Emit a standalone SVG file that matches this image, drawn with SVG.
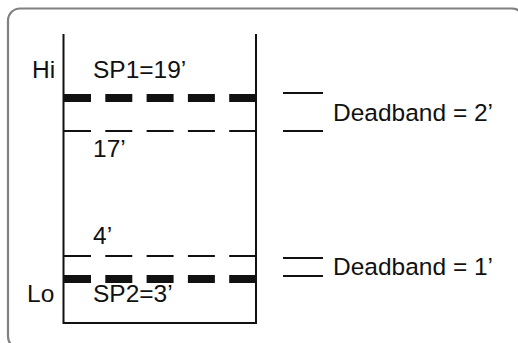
<svg xmlns="http://www.w3.org/2000/svg" width="518" height="343" viewBox="0 0 518 343">
<style>
text{font-family:"Liberation Sans",Arial,sans-serif;font-size:24.5px;fill:#111}
.wall{stroke:#111;stroke-width:2;fill:none}
.sp{stroke:#111;stroke-width:8;stroke-dasharray:27 14.3}
.db{stroke:#111;stroke-width:2;stroke-dasharray:27 14.3}
.tick{stroke:#111;stroke-width:2}
</style>
<rect x="8" y="8.5" width="516" height="340" rx="12" fill="#fff" stroke="#808080" stroke-width="2.2"/>
<g id="tank">
<path class="wall" d="M63.5,34 V323 H256 V34"/>
</g>
<g id="labels">
<text x="32" y="78">Hi</text>
<text x="27" y="302">Lo</text>
</g>
<g id="connectors">
<line class="sp" x1="64" y1="98" x2="256" y2="98"/>
<line class="db" x1="64" y1="131" x2="256" y2="131"/>
<line class="db" x1="64" y1="256" x2="256" y2="256"/>
<line class="sp" x1="64" y1="279" x2="256" y2="279"/>
<line class="tick" x1="283" y1="93" x2="323" y2="93"/>
<line class="tick" x1="283" y1="131" x2="323" y2="131"/>
<line class="tick" x1="283" y1="258" x2="323" y2="258"/>
<line class="tick" x1="283" y1="276" x2="323" y2="276"/>
</g>
<g id="sp1"><text x="93" y="78">SP1=19’</text></g>
<g id="l17"><text x="93" y="157">17’</text></g>
<g id="l4"><text x="93" y="244">4’</text></g>
<g id="sp2"><text x="93" y="302">SP2=3’</text></g>
<g id="db2"><text x="333" y="121">Deadband = 2’</text></g>
<g id="db1"><text x="333" y="275">Deadband = 1’</text></g>
</svg>
